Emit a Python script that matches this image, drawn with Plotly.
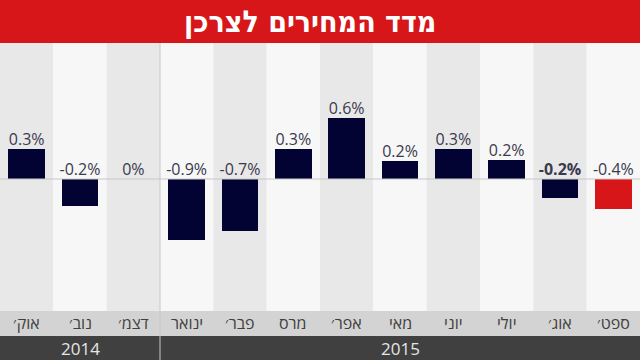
import plotly.graph_objects as go

months = ["אוק׳", "נוב׳", "דצמ׳", "ינואר", "פבר׳", "מרס", "אפר׳", "מאי", "יוני", "יולי", "אוג׳", "ספט׳"]
# bar heights as drawn (in % units)
heights = [0.30, -0.27, 0.0, -0.61, -0.52, 0.30, 0.61, 0.18, 0.30, 0.19, -0.19, -0.30]
labels = ["0.3%", "-0.2%", "0%", "-0.9%", "-0.7%", "0.3%", "0.6%", "0.2%", "0.3%", "0.2%", "<b>-0.2%</b>", "-0.4%"]
years = ["2014", "2015"]
year_spans = [(0, 2), (3, 11)]
title = "מדד המחירים לצרכן"

W, H = 640, 360
def py(p):
    return 1 - p / H

NAVY = "#020233"
RED = "#D7161A"
xs = list(range(len(months)))
bar_colors = [NAVY] * (len(months) - 1) + [RED]

fig = go.Figure()
fig.add_trace(go.Bar(x=xs, y=heights, marker=dict(color=bar_colors, line=dict(width=0)),
                     width=0.69, hoverinfo="skip"))
fig.add_trace(go.Scatter(x=xs, y=[max(h, 0) for h in heights], mode="text", text=labels,
                         textposition="top center",
                         textfont=dict(family="Open Sans", size=16, color="#3a3a4e"),
                         hoverinfo="skip", cliponaxis=False))

shapes = []
for i in xs:
    shapes.append(dict(type="rect", xref="x", yref="paper", x0=i - 0.5, x1=i + 0.5,
                       y0=py(311), y1=py(43), fillcolor="#E8E8E8" if i % 2 == 0 else "#F7F7F7",
                       line=dict(width=0), layer="below"))
# title bar
shapes.append(dict(type="rect", xref="paper", yref="paper", x0=0, x1=1, y0=py(43), y1=1,
                   fillcolor=RED, line=dict(width=0)))
# month band
shapes.append(dict(type="rect", xref="paper", yref="paper", x0=0, x1=1, y0=py(336), y1=py(311),
                   fillcolor="#D3D3D3", line=dict(width=0)))
# year band
shapes.append(dict(type="rect", xref="paper", yref="paper", x0=0, x1=1, y0=0, y1=py(336),
                   fillcolor="#404040", line=dict(width=0)))
# zero line
shapes.append(dict(type="line", xref="paper", yref="y", x0=0, x1=1, y0=0, y1=0,
                   line=dict(color="#C8C8C8", width=1)))
# year separator
shapes.append(dict(type="line", xref="x", yref="paper", x0=2.5, x1=2.5, y0=0, y1=py(43),
                   line=dict(color="#C8C8C8", width=1)))

annotations = []
for i, m in enumerate(months):
    annotations.append(dict(x=i, y=py(323), xref="x", yref="paper", text=m, showarrow=False,
                            font=dict(family="Open Sans", size=16, color="#404040"),
                            xanchor="center", yanchor="middle"))
for yr, (a, b) in zip(years, year_spans):
    annotations.append(dict(x=(a + b) / 2, y=py(348), xref="x", yref="paper", text=yr, showarrow=False,
                            font=dict(family="Open Sans", size=17, color="#E6E6E6"),
                            xanchor="center", yanchor="middle"))
annotations.append(dict(x=310 / W, y=py(21), xref="paper", yref="paper", text="<b>" + title + "</b>",
                        showarrow=False, font=dict(family="DejaVu Sans Condensed", size=30, color="white"),
                        xanchor="center", yanchor="middle"))

fig.update_layout(
    width=W, height=H, margin=dict(l=0, r=0, t=0, b=0),
    paper_bgcolor="white", plot_bgcolor="rgba(0,0,0,0)",
    showlegend=False, shapes=shapes, annotations=annotations,
    xaxis=dict(range=[-0.5, 11.5], visible=False, fixedrange=True),
    yaxis=dict(range=[-1.32, 1.36], domain=[py(311), py(43)], visible=False, fixedrange=True),
    bargap=0,
)
fig.write_html("out.html", config={"displayModeBar": False},
               post_script="document.body.style.margin='0';document.body.style.overflow='hidden';")
